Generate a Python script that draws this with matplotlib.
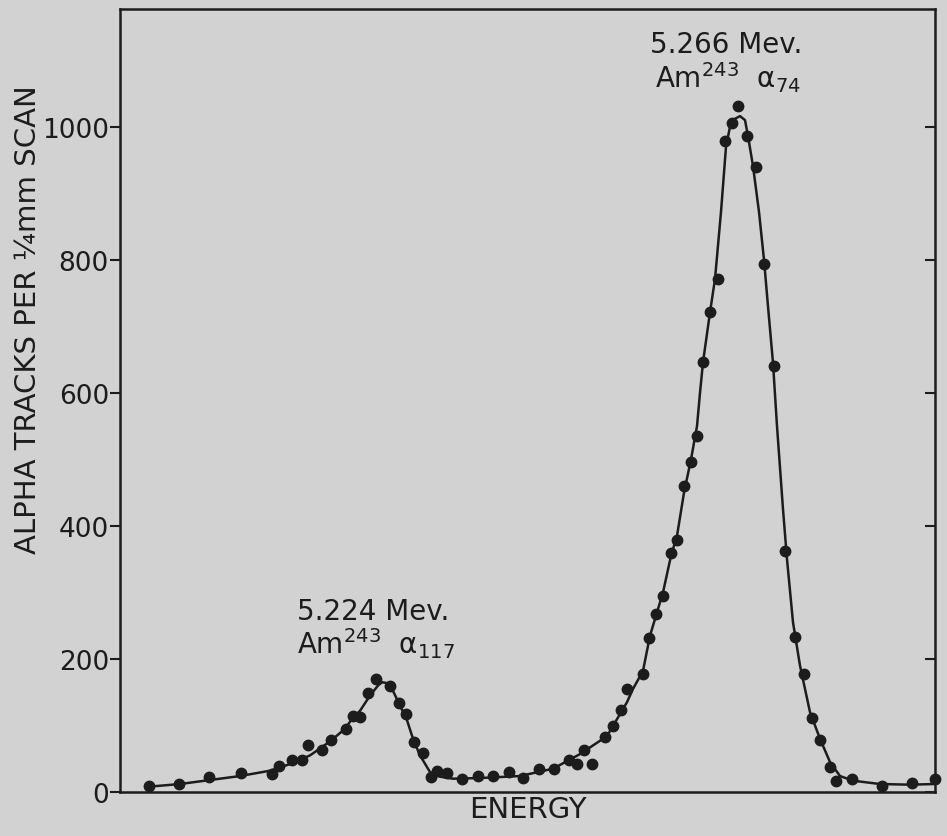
import matplotlib
matplotlib.use("Agg")
import matplotlib.pyplot as plt

# measured points (scan position, alpha tracks per 1/4 mm)
pos = [29, 59, 89, 121, 152, 159, 172, 182, 188, 202, 211, 226, 233, 240,
       248, 256, 270, 279, 286, 294, 303, 311, 317, 327, 342, 358, 373, 389,
       403, 419, 434, 449, 457, 464, 472, 485, 493, 501, 507, 523, 529, 536,
       543, 551, 557, 564, 571, 577, 583, 590, 598, 605, 612, 618, 627, 636,
       644, 654, 665, 675, 684, 692, 700, 710, 716, 732, 762, 792, 815]
tracks = [9, 12, 22, 28, 27, 39, 48, 48, 70, 63, 78, 95, 114, 112,
          149, 170, 159, 134, 118, 75, 58, 22, 31, 29, 20, 24, 24, 30,
          21, 35, 35, 48, 42, 63, 42, 83, 99, 124, 155, 177, 232, 268,
          295, 359, 379, 460, 496, 535, 646, 721, 771, 978, 1005, 1031, 986, 939,
          793, 640, 363, 233, 178, 111, 78, 38, 17, 20, 9, 14, 20]

# hand drawn curve
curve_pos = [29, 60, 90, 120, 150, 170, 190, 210, 225, 233, 240, 250, 258, 262,
             266, 272, 280, 287, 293, 300, 310, 320, 333, 360, 400, 433, 460,
             487, 507, 513, 523, 530, 536, 543, 551, 557, 564, 571, 577, 580,
             583, 590, 595, 601, 606, 610, 615, 620, 625, 628, 633, 639, 644,
             648, 653, 657, 663, 667, 673, 680, 690, 700, 710, 720, 733, 760,
             790, 815]
curve_val = [8, 12, 18, 24, 32, 42, 55, 76, 95, 112, 122, 145, 160, 165,
             164, 155, 130, 108, 80, 55, 30, 23, 20, 21, 24, 35, 57,
             84, 135, 155, 182, 235, 265, 300, 355, 385, 450, 500, 550, 600,
             646, 721, 771, 872, 970, 1000, 1012, 1016, 1010, 986, 941, 872, 800,
             730, 645, 550, 425, 350, 255, 190, 120, 80, 45, 24, 17, 12,
             11, 12]

yticks = [0, 200, 400, 600, 800, 1000]

ink = '#1c1c1c'
paper = '#d2d2d2'

fig = plt.figure(figsize=(9.47, 8.37), dpi=100, facecolor=paper)
ax = fig.add_axes([120 / 947, 44 / 837, 815 / 947, 783 / 837])
ax.set_facecolor(paper)

ax.plot(curve_pos, curve_val, color=ink, lw=1.8, solid_joinstyle='round')
ax.plot(pos, tracks, 'o', color=ink, ms=7.5, clip_on=False)

ax.set_xlim(0, 815)
ax.set_ylim(0, 1177)
ax.set_xticks([])
ax.set_yticks(yticks)
ax.tick_params(axis='y', which='both', direction='out', length=7, width=1.5,
               color=ink, labelcolor=ink, labelsize=19, pad=1,
               right=True)
for t in ax.yaxis.get_major_ticks():
    t.tick2line.set_marker(matplotlib.lines.TICKLEFT)
    t.tick2line.set_markersize(7)
for s in ax.spines.values():
    s.set_color(ink)
    s.set_linewidth(1.8)

ax.set_ylabel('ALPHA TRACKS PER ¼mm SCAN', fontsize=21, color=ink)
ax.yaxis.set_label_coords(-0.096, 0.605)
ax.set_xlabel('ENERGY', fontsize=21, color=ink, labelpad=2)

ax.text(177, 260, '5.224 Mev.', fontsize=20, color=ink, va='baseline')
ax.text(177, 209, r'Am$^{243}$  α$_{117}$', fontsize=20, color=ink,
        va='baseline')
ax.text(530, 1113, '5.266 Mev.', fontsize=20, color=ink, va='baseline')
ax.text(535, 1060, r'Am$^{243}$  α$_{74}$', fontsize=20, color=ink,
        va='baseline')

fig.savefig('out.png', dpi=100, facecolor=paper)
